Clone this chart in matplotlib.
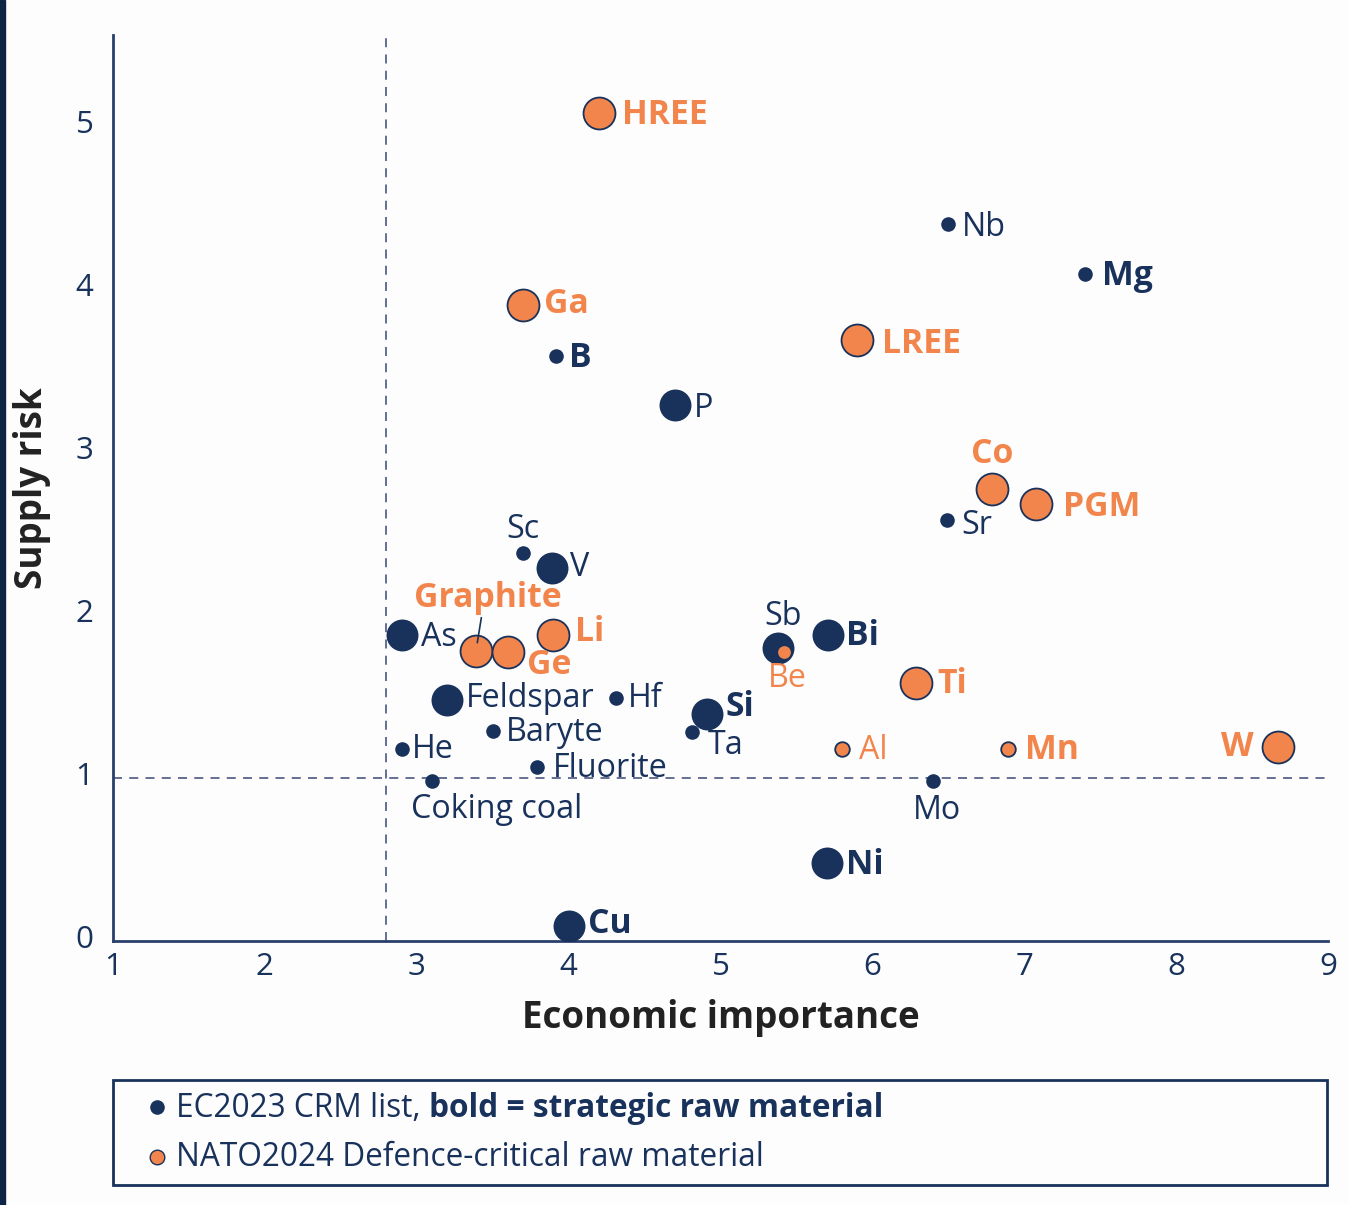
import matplotlib
matplotlib.use("Agg")
import matplotlib.pyplot as plt
import matplotlib.transforms as mtransforms
from matplotlib.patches import Rectangle
from matplotlib.lines import Line2D

plt.rcParams['font.family'] = ['Open Sans', 'DejaVu Sans']

# ---------------- data ----------------
names = ["HREE", "Nb", "Mg", "Ga", "B", "LREE", "P", "Co", "PGM", "Sr",
         "Sc", "V", "As", "Graphite", "Ge", "Li", "Sb", "Be", "Bi", "Ti",
         "Feldspar", "Hf", "Si", "Ta", "Baryte", "He", "Al", "Mn", "W",
         "Fluorite", "Coking coal", "Mo", "Ni", "Cu"]
economic_importance = [4.20, 6.50, 7.40, 3.70, 3.92, 5.90, 4.70, 6.79, 7.08, 6.49,
                       3.70, 3.89, 2.90, 3.39, 3.60, 3.90, 5.38, 5.42, 5.71, 6.29,
                       3.20, 4.31, 4.91, 4.81, 3.50, 2.90, 5.80, 6.89, 8.67,
                       3.79, 3.10, 6.40, 5.70, 4.00]
supply_risk = [5.08, 4.40, 4.09, 3.90, 3.59, 3.69, 3.29, 2.77, 2.68, 2.58,
               2.38, 2.29, 1.88, 1.78, 1.77, 1.88, 1.80, 1.77, 1.88, 1.58,
               1.48, 1.49, 1.39, 1.28, 1.29, 1.18, 1.18, 1.18, 1.19,
               1.07, 0.98, 0.98, 0.48, 0.09]
nato_critical = ["HREE", "Ga", "LREE", "Co", "PGM", "Graphite", "Ge", "Li", "Be",
                 "Ti", "Al", "Mn", "W"]
strategic = ["HREE", "Mg", "Ga", "B", "LREE", "Co", "PGM", "Graphite", "Ge", "Li",
             "Bi", "Ti", "Si", "Mn", "W", "Ni", "Cu"]
large_marker = ["HREE", "Ga", "LREE", "P", "Co", "PGM", "V", "As", "Graphite", "Ge",
                "Li", "Sb", "Bi", "Ti", "Feldspar", "Si", "W", "Ni", "Cu"]
x_ticks = [1, 2, 3, 4, 5, 6, 7, 8, 9]
y_ticks = [0, 1, 2, 3, 4, 5]
ei_threshold = 2.8
sr_threshold = 1.0

# ---------------- style ----------------
NAVY = "#19325c"
ORANGE = "#f2854c"
DASH = "#56658a"
TITLE = "#222222"
BG = "#fdfdfd"

# label placement: (dx px, baseline dy px (down +), ha)
label_pos = {
    "HREE": (23, 11, "left"), "Nb": (14, 12, "left"), "Mg": (17, 11, "left"),
    "Ga": (21, 8, "left"), "B": (13, 11, "left"), "LREE": (25, 13, "left"),
    "P": (19, 12, "left"), "Co": (0, -26, "center"), "PGM": (27, 12, "left"),
    "Sr": (15, 14, "left"), "Sc": (0, -15, "center"), "V": (18, 8, "left"),
    "As": (19, 11, "left"), "Graphite": (12, -44, "center"), "Ge": (19, 22, "left"),
    "Li": (22, 6, "left"), "Sb": (5, -23, "center"), "Be": (3, 35, "center"),
    "Bi": (18, 10, "left"), "Ti": (21, 10, "left"), "Feldspar": (19, 7, "left"),
    "Hf": (12, 9, "left"), "Si": (19, 2, "left"), "Ta": (16, 22, "left"),
    "Baryte": (13, 10, "left"), "He": (10, 9, "left"), "Al": (17, 10, "left"),
    "Mn": (17, 10, "left"), "W": (-24, 9, "right"), "Fluorite": (16, 10, "left"),
    "Coking coal": (-21, 37, "left"), "Mo": (4, 38, "center"),
    "Ni": (19, 11, "left"), "Cu": (19, 7, "left"),
}
LABEL_FS = 23.2
LABEL_FS_BOLD = 24.3

W, H = 1349, 1205
fig = plt.figure(figsize=(W / 100, H / 100), dpi=100, facecolor=BG)

# left navy bar
fig.patches.append(Rectangle((0, 0), 5 / W, 1, transform=fig.transFigure,
                             color="#0e2447", zorder=0))

ax_left, ax_right, ax_bottom, ax_top = 113, 1328, 941, 35
ax = fig.add_axes([ax_left / W, 1 - ax_bottom / H, (ax_right - ax_left) / W,
                   (ax_bottom - ax_top) / H])
ax.set_facecolor("none")
ax.set_xlim(1, 9)
ax.set_ylim(0, (ax_bottom - ax_top) / 163.0)

for s in ["top", "right"]:
    ax.spines[s].set_visible(False)
for s in ["left", "bottom"]:
    ax.spines[s].set_color("#2a3f6b")
    ax.spines[s].set_linewidth(2.0)

ax.set_xticks(x_ticks)
ax.set_yticks(y_ticks)
ax.tick_params(axis="both", length=0, labelsize=22.5, labelcolor=NAVY)
ax.tick_params(axis="y", pad=14)
ax.tick_params(axis="x", pad=8)
off = mtransforms.ScaledTranslation(0, 4.5 / 100, fig.dpi_scale_trans)
for lab in ax.get_yticklabels():
    lab.set_transform(lab.get_transform() + off)

ax.set_xlabel("Economic importance", fontsize=26.5, fontweight="bold", color=TITLE,
              labelpad=12)
ax.set_ylabel("Supply risk", fontsize=26.5, fontweight="bold", color=TITLE,
              labelpad=18)

# threshold lines
ax.axvline(ei_threshold, color=DASH, lw=1.3, dashes=(5, 4), zorder=1)
ax.axhline(sr_threshold, color=DASH, lw=1.3, dashes=(5, 4), zorder=1)

# markers
S_LARGE, S_SMALL = 23.0, 10.5
for i, n in enumerate(names):
    x, y = economic_importance[i], supply_risk[i]
    is_nato = n in nato_critical
    big = n in large_marker
    ms = S_LARGE if big else S_SMALL
    if is_nato:
        ax.plot(x, y, "o", ms=ms, mfc=ORANGE, mec=NAVY, mew=1.3,
                zorder=4 if not big else 3)
    else:
        ax.plot(x, y, "o", ms=ms, mfc=NAVY, mec=NAVY, mew=0,
                zorder=3 if big else 2.5)

# labels
for i, n in enumerate(names):
    x, y = economic_importance[i], supply_risk[i]
    dx, dy, ha = label_pos[n]
    color = ORANGE if n in nato_critical else NAVY
    bold = n in strategic
    kw = {}
    if n == "Graphite":
        kw["arrowprops"] = dict(arrowstyle="-", color=NAVY, lw=1.2,
                                shrinkA=0, shrinkB=6, relpos=(0.46, 0.05))
    ax.annotate(n, (x, y), xytext=(dx, -dy), textcoords="offset pixels",
                ha=ha, va="baseline",
                fontsize=LABEL_FS_BOLD if bold else LABEL_FS, color=color,
                fontweight="bold" if bold else "normal", zorder=5, **kw)

# legend box
lx0, lx1, ly0, ly1 = 113, 1327, 1080, 1185
fig.patches.append(Rectangle((lx0 / W, 1 - ly1 / H), (lx1 - lx0) / W, (ly1 - ly0) / H,
                             transform=fig.transFigure, fill=False,
                             edgecolor=NAVY, lw=2.0, zorder=2))
fig.add_artist(Line2D([157 / W], [1 - 1107 / H], marker="o", ms=10.5,
                      mfc=NAVY, mec=NAVY, mew=0, ls="none",
                      transform=fig.transFigure))
fig.add_artist(Line2D([157 / W], [1 - 1157 / H], marker="o", ms=10.5,
                      mfc=ORANGE, mec=NAVY, mew=1.0, ls="none",
                      transform=fig.transFigure))
LEG_FS = 22.8
t1 = fig.text(176 / W, 1 - 1117 / H, "EC2023 CRM list, ", fontsize=LEG_FS,
              color=NAVY, va="baseline", ha="left")
fig.canvas.draw()
bb = t1.get_window_extent(renderer=fig.canvas.get_renderer())
fig.text(bb.x1 / W, 1 - 1117 / H, "bold = strategic raw material", fontsize=LEG_FS,
         color=NAVY, va="baseline", ha="left", fontweight="bold")
fig.text(176 / W, 1 - 1166 / H, "NATO2024 Defence-critical raw material",
         fontsize=LEG_FS, color=NAVY, va="baseline", ha="left")

fig.savefig("out.png", dpi=100, facecolor=BG)
